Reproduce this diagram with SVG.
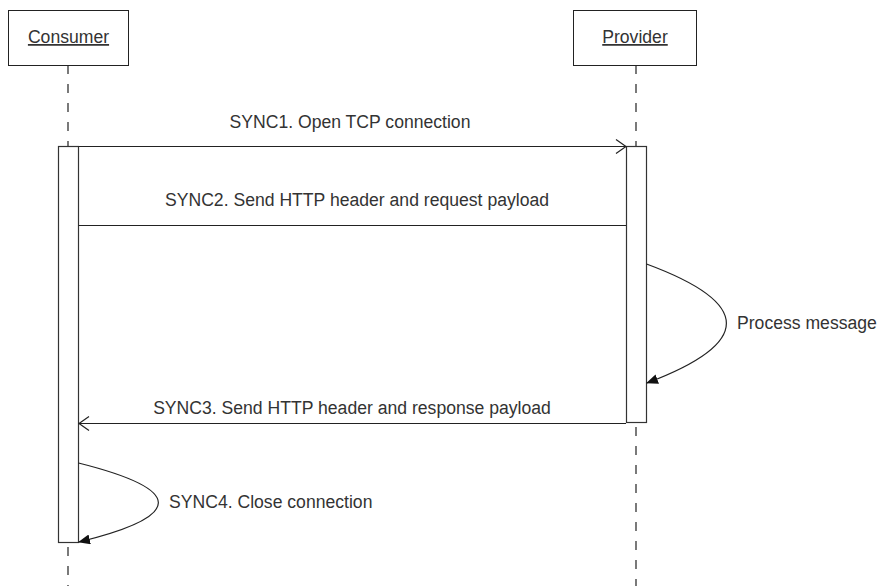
<svg xmlns="http://www.w3.org/2000/svg" width="877" height="586" viewBox="0 0 877 586">
<style>
  .box { fill: #ffffff; stroke: #222; stroke-width: 1; }
  .act { fill: #ffffff; stroke: #333; stroke-width: 1.2; }
  .life { stroke: #333; stroke-width: 1.3; stroke-dasharray: 9 10; fill: none; }
  .msg { stroke: #222; stroke-width: 1.2; fill: none; }
  .txt { font-family: "Liberation Sans", Arial, sans-serif; font-size: 17.6px; fill: #333; }
  .title { text-decoration: underline; text-anchor: middle; }
</style>
<defs>
  <marker id="open" markerUnits="userSpaceOnUse" viewBox="0 0 12 16" refX="11" refY="8" markerWidth="12" markerHeight="16" orient="auto">
    <path d="M1,1 L11,8 L1,15" fill="none" stroke="#222" stroke-width="1.2"/>
  </marker>
  <marker id="filled" markerUnits="userSpaceOnUse" viewBox="0 0 12 10" refX="11" refY="5" markerWidth="12" markerHeight="10" orient="auto">
    <path d="M0,0 L12,5 L0,10 Z" fill="#111"/>
  </marker>
</defs>

<g id="lifelines">
  <line class="life" x1="68" y1="65" x2="68" y2="146"/>
  <line class="life" x1="68" y1="547" x2="68" y2="586"/>
  <line class="life" x1="636" y1="65" x2="636" y2="146"/>
  <line class="life" x1="636" y1="427" x2="636" y2="586"/>
</g>

<g id="consumer">
  <rect class="box" x="8.5" y="10.5" width="120" height="55"/>
  <text class="txt title" x="68.5" y="43">Consumer</text>
  <rect class="act" x="58.5" y="146.5" width="20" height="396"/>
</g>

<g id="provider">
  <rect class="box" x="573.5" y="10.5" width="123" height="55"/>
  <text class="txt title" x="635" y="43">Provider</text>
  <rect class="act" x="626.5" y="146.5" width="20" height="276"/>
</g>

<g id="connectors">
  <line class="msg" x1="78.5" y1="146.5" x2="626" y2="146.5" marker-end="url(#open)"/>
  <line class="msg" x1="78.5" y1="225.5" x2="626" y2="225.5"/>
  <path class="msg" d="M646.5,264 Q806,323 647,383" marker-end="url(#filled)"/>
  <line class="msg" x1="626" y1="423.5" x2="79" y2="423.5" marker-end="url(#open)"/>
  <path class="msg" d="M78.5,463 Q238,503 79,542" marker-end="url(#filled)"/>
</g>

<g id="labels">
  <text class="txt" x="350" y="128" text-anchor="middle">SYNC1. Open TCP connection</text>
  <text class="txt" x="357" y="206" text-anchor="middle">SYNC2. Send HTTP header and request payload</text>
  <text class="txt" x="737" y="329">Process message</text>
  <text class="txt" x="352" y="414" text-anchor="middle">SYNC3. Send HTTP header and response payload</text>
  <text class="txt" x="169" y="508">SYNC4. Close connection</text>
</g>
</svg>
